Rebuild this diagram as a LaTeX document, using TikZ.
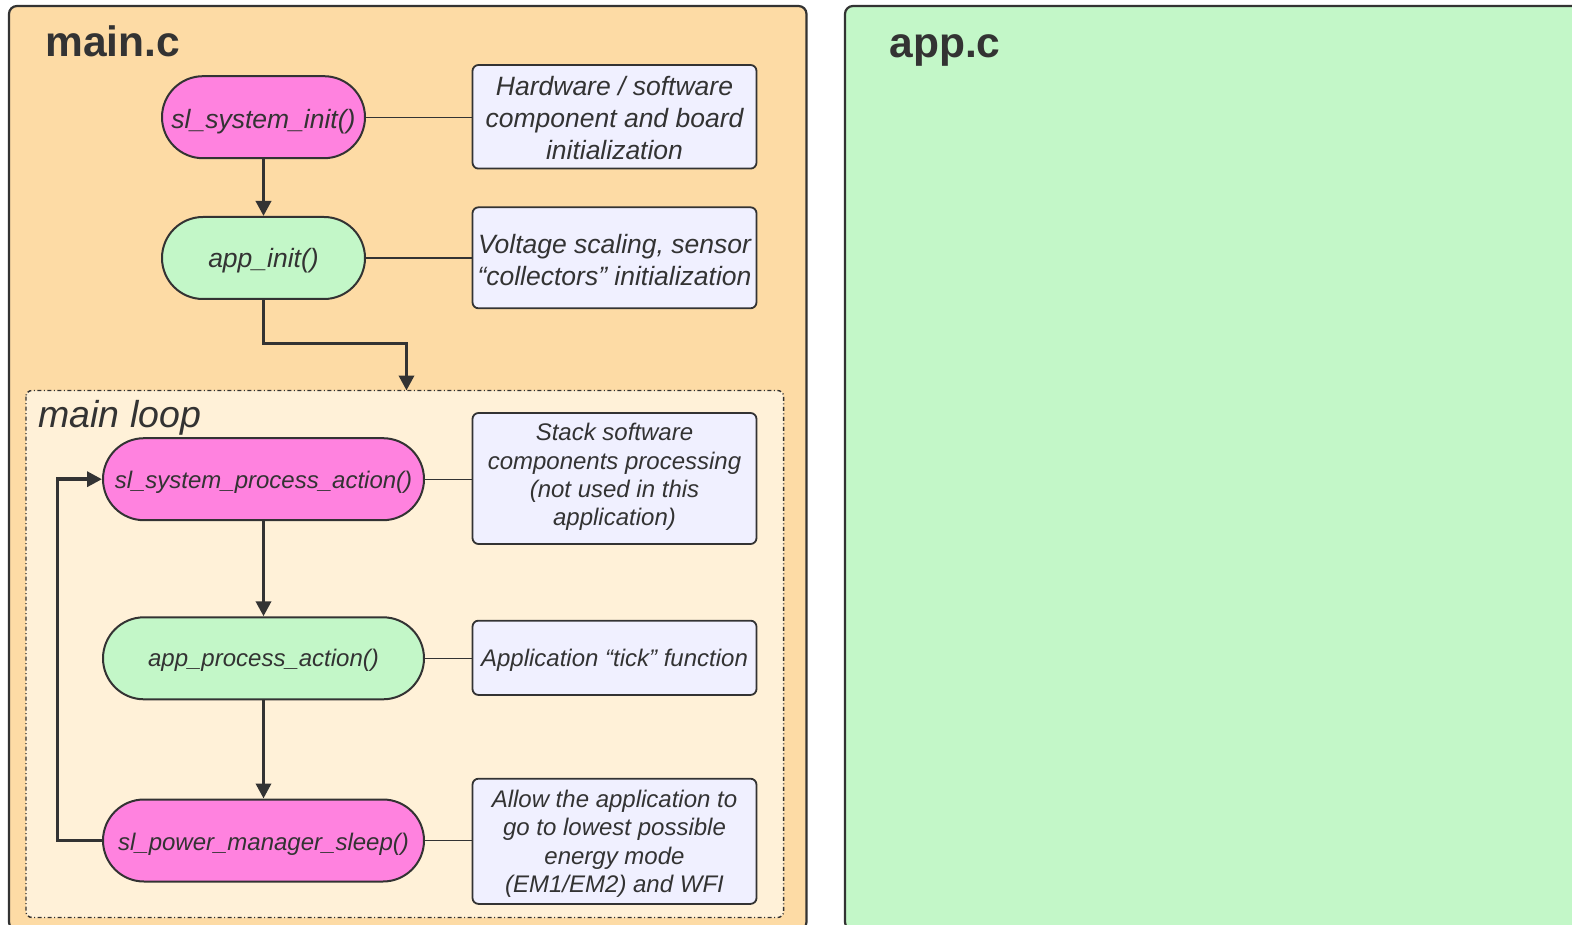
\documentclass[tikz,border=0pt]{standalone}
\usepackage{fontspec}
\setmainfont{Liberation Sans}
\usetikzlibrary{arrows.meta}
\definecolor{ink}{HTML}{333333}
\definecolor{filefill}{HTML}{FDDBA5}
\definecolor{appfill}{HTML}{C3F7C8}
\definecolor{loopfill}{HTML}{FFF1D8}
\definecolor{sysfill}{HTML}{FF82DF}
\definecolor{notefill}{HTML}{F0F0FF}
% struts that fix the first baseline and the last depth of a text block
\newcommand{\topstrut}[1]{\rule{0pt}{#1pt}}
\newcommand{\botstrut}[1]{\rule[-#1pt]{0pt}{#1pt}}
\tikzset{
  filebox/.style={draw=ink, line width=2.2pt, rounded corners=8pt},
  looparea/.style={draw=ink, fill=loopfill, line width=1.4pt, rounded corners=6pt,
    dash pattern=on 4pt off 2.5pt on 1pt off 2.5pt},
  title/.style={anchor=base west, text=ink, font=\bfseries\fontsize{42.5}{50}\selectfont},
  stadium/.style={draw=ink, line width=2pt, rounded corners=41pt, text=ink,
    minimum height=82pt, inner sep=0pt},
  initfn/.style={stadium, minimum width=203pt, font=\itshape\fontsize{26.5}{32}\selectfont},
  loopfn/.style={stadium, minimum width=321pt, font=\itshape\fontsize{24}{28.4}\selectfont},
  sysfn/.style={fill=sysfill},
  appfn/.style={fill=appfill},
  note/.style={draw=ink, fill=notefill, line width=1.8pt, rounded corners=6pt,
    text=ink, align=center, inner sep=0pt, minimum width=284pt},
  initnote/.style={note, font=\itshape\fontsize{26.5}{31.8}\selectfont},
  loopnote/.style={note, font=\itshape\fontsize{24}{28.4}\selectfont},
  link/.style={draw=ink, line width=1.3pt},
  flow/.style={draw=ink, line width=3.5pt, -{Triangle[length=15pt,width=15pt]}},
}
\begin{document}
\begin{tikzpicture}[x=1pt, y=-1pt]
\useasboundingbox (0,0) rectangle (1572,925);
\fill[white] (0,0) rectangle (1572,925);

% source file frames (they run on past the lower edge)
\begin{scope}
\clip (0,0) rectangle (1572,925);
\draw[filebox, fill=filefill] (9,6) rectangle (806.5,930);
\draw[filebox, fill=appfill] (845,6) rectangle (1590,930);
\end{scope}
\node[title] (maintitle) at (42,57) {main.c};
\node[title] (apptitle) at (886,57.5) {app.c};

% main loop area
\draw[looparea] (26,390.5) rectangle (783.6,917.5);
\coordinate (loopin) at (406.5,390.5);
\node[anchor=base west, text=ink, font=\itshape\fontsize{37.5}{44}\selectfont] (looptitle) at (35,427) {main loop};

% initialization functions
\node[initfn, sysfn, text height=31pt, text depth=9pt] (sysinit) at (263.5,117.2) {sl\_system\_init()};
\node[initfn, appfn, text height=30pt, text depth=10pt] (appinit) at (263.5,258) {app\_init()};

% loop functions
\node[loopfn, sysfn, text height=29pt, text depth=11pt] (sysproc) at (263.5,479.2) {sl\_system\_process\_action()};
\node[loopfn, appfn, text height=28.5pt, text depth=11.5pt] (appproc) at (263.5,658.3) {app\_process\_action()};
\node[loopfn, sysfn, text height=30pt, text depth=10pt] (sleep) at (263.5,840.5) {sl\_power\_manager\_sleep()};

% notes
\node[initnote, minimum height=101.7pt] (n1) at (614.5,116.8)
  {\topstrut{30.7}Hardware / software\\component and board\\initialization\botstrut{9.3}};
\node[initnote, minimum height=101pt] (n2) at (614.5,257.8)
  {\topstrut{31.4}Voltage scaling, sensor\\“collectors” initialization\botstrut{8.6}};
\node[loopnote, minimum height=131pt] (n3) at (614.5,478.5)
  {\topstrut{24.8}Stack software\\components processing\\(not used in this\\application)\botstrut{15.2}};
\node[loopnote, minimum height=74.3pt] (n4) at (614.5,657.8)
  {\topstrut{28.9}Application “tick” function\botstrut{11.1}};
\node[loopnote, minimum height=122.7pt] (n5) at (614.5,841.3)
  {\topstrut{28.5}Allow the application to\\go to lowest possible\\energy mode\\(EM1/EM2) and WFI\botstrut{11.5}};

% note links
\draw[link] (sysinit.east) -- (sysinit.east -| n1.west);
\draw[link] (appinit.east) -- (appinit.east -| n2.west);
\draw[link] (sysproc.east) -- (sysproc.east -| n3.west);
\draw[link] (appproc.east) -- (appproc.east -| n4.west);
\draw[link] (sleep.east) -- (sleep.east -| n5.west);

% control flow
\draw[flow] (sysinit) -- (appinit);
\draw[flow] (appinit.south) |- (406.5,343.5) -- (loopin);
\draw[flow] (sysproc) -- (appproc);
\draw[flow] (appproc) -- (sleep);
\draw[flow] (sleep.west) -- ++(-44.5,0) |- (sysproc.west);
\end{tikzpicture}
\end{document}
